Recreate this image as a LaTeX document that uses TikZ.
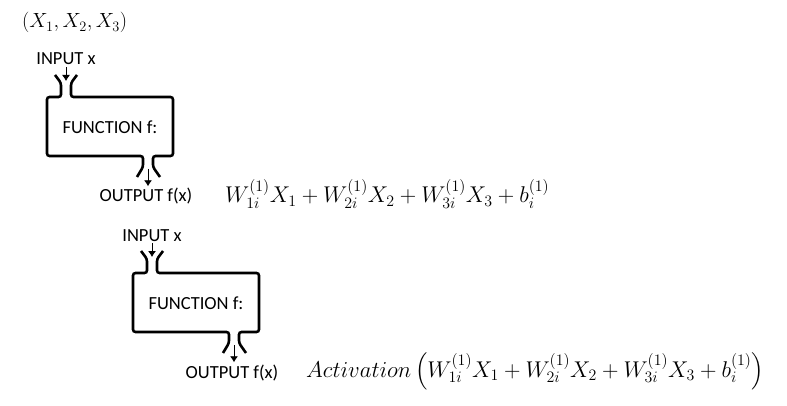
\documentclass[tikz,border=0pt]{standalone}
\usepackage{fix-cm}
\usepackage[no-math]{fontspec}
\setmainfont{Carlito}
\usepackage{amsmath}
\usetikzlibrary{arrows.meta}

\begin{document}
\begin{tikzpicture}[x=1pt, y=-1pt,
			>={Latex[length=6pt,width=8pt]},   %Pfeilspitzen
			rahmen/.style={line width=2.6pt, rounded corners=2.5pt},
			pfeil/.style={->, line width=0.8pt},
			txt/.style={font=\fontsize{18.5}{22}\selectfont, inner sep=2pt},
			formel/.style={font=\fontsize{#1}{25}\selectfont, anchor=base west, inner sep=0pt},
			formel/.default=22.8]
			\useasboundingbox (0,0) rectangle (787,406);
			%Eingabevektor
			\node[formel=20.5] (xvec) at (22,28) {$(X_1,X_2,X_3)$};
			%Funktionsboxen mit Trichtern
			\foreach \n/\bx/\by in {1/47/97, 2/133/273} {
				\begin{scope}[shift={(\bx,\by)}]
					\node[txt] (f\n) at (63,30) {FUNCTION f:};
					\draw[rahmen] (30,-22) -- (24,-14) -- (24,0) -- (126,0) -- (126,59) -- (106,59) -- (106,70) -- (113,80)
						(90,80) -- (96,70) -- (96,59) -- (0,59) -- (0,0) -- (14,0) -- (14,-14) -- (8,-22);
					\coordinate (mund\n) at (19,-16);
					\coordinate (hals\n) at (101,72);
					\node[txt, anchor=base] (in\n) at (19,-32) {INPUT x};
					\node[txt, anchor=base] (out\n) at (99,105) {OUTPUT f(x)};
					\draw[pfeil] (in\n.south) -- (mund\n);
					\draw[pfeil] (hals\n) -- (out\n.north -| hals\n);
				\end{scope}
			}
			%Formeln
			\node[formel] (lin) at (225,203) {$W_{1i}^{(1)}X_1+W_{2i}^{(1)}X_2+W_{3i}^{(1)}X_3+b_i^{(1)}$};
			\node[formel] (akt) at (306,377) {$Activation\left(W_{1i}^{(1)}X_1+W_{2i}^{(1)}X_2+W_{3i}^{(1)}X_3+b_i^{(1)}\right)$};
		\end{tikzpicture}
\end{document}
